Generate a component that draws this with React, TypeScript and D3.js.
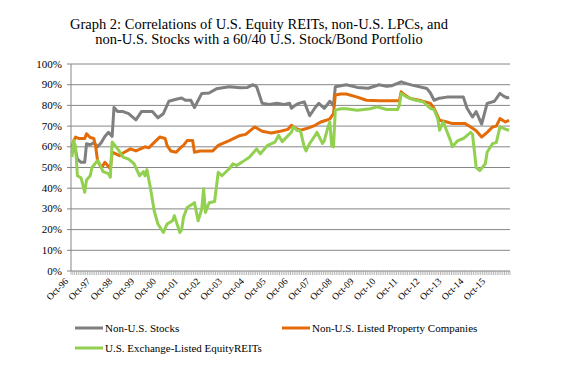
import React from 'react';
import * as d3 from 'd3';

// month index 0 = Oct-96, 239 = Sep-16
const nMonths = 240;
const yTicks = [0, 10, 20, 30, 40, 50, 60, 70, 80, 90, 100];
const xLabels = ['Oct-96', 'Oct-97', 'Oct-98', 'Oct-99', 'Oct-00', 'Oct-01', 'Oct-02', 'Oct-03', 'Oct-04', 'Oct-05',
  'Oct-06', 'Oct-07', 'Oct-08', 'Oct-09', 'Oct-10', 'Oct-11', 'Oct-12', 'Oct-13', 'Oct-14', 'Oct-15'];

// [month, correlation %]
const nonUSStocks = [
  [0, 57], [1, 61], [2, 58], [3, 54], [5, 52.5], [7, 52.5], [8, 61.5], [10, 61], [12, 62], [14, 60], [16, 62], [18, 65],
  [20, 67], [22, 65], [23, 79], [25, 77], [28, 77], [31, 76], [35, 73], [38, 77], [42, 77], [44, 77], [47, 74], [50, 76],
  [53, 82], [57, 83], [60, 83.6], [62, 82.5], [65, 82.5], [67, 79], [71, 85.8], [75, 86], [79, 88], [86, 89], [92, 88.5],
  [96, 88.7], [99, 90], [101, 89], [104, 81], [108, 80.5], [112, 81], [116, 80.5], [119, 81], [120, 78.6], [122, 80],
  [124, 81], [127, 81.7], [130, 75], [133, 79], [135, 81], [138, 78.6], [141, 82], [143, 80], [144, 89], [147, 89.5],
  [150, 90], [156, 88.7], [162, 88.3], [168, 90], [172, 89.2], [175, 89.5], [180, 91.4], [183, 90.5], [186, 89.8],
  [190, 89], [194, 88.2], [196, 86], [198, 82.5], [201, 83.5], [205, 84], [210, 84], [214, 84], [216, 78.6], [219, 74.4],
  [221, 77], [224, 71], [227, 81], [231, 82], [234, 85.8], [236, 84.5], [238, 83.6], [239, 84],
];

const nonUSLPC = [
  [0, 60], [1, 63], [2, 64.7], [4, 64], [7, 64], [8, 66.3], [10, 64.5], [12, 64], [13, 60], [14, 53.4], [16, 50], [17, 51],
  [18, 52.5], [21, 49.4], [22, 57.4], [26, 55.7], [28, 57], [32, 59], [35, 58], [40, 60], [42, 59.5], [46, 63], [48, 64.7],
  [51, 64], [52, 60.7], [54, 58], [57, 57.4], [60, 60], [61, 60.7], [63, 63], [66, 63], [67, 57.4], [70, 58], [74, 58],
  [77, 58], [80, 60.7], [86, 63], [92, 65.5], [95, 66], [100, 69.6], [104, 67.5], [109, 66.7], [114, 67.5], [118, 68.4],
  [120, 70.4], [122, 69], [125, 68], [129, 69], [133, 70.4], [136, 72], [139, 72.8], [141, 73.5], [143, 76], [144, 85],
  [147, 85.5], [150, 85.5], [156, 84], [161, 82.5], [168, 82.2], [174, 82.2], [179, 82.2], [180, 86.6], [182, 85],
  [185, 83.3], [190, 82.5], [196, 81], [198, 78.6], [201, 72.8], [205, 72], [208, 71.2], [212, 71.2], [215, 71.2],
  [218, 69.6], [221, 67.8], [224, 64.7], [227, 67], [230, 69.6], [232, 70], [234, 73.6], [237, 72], [239, 72.8],
];

const usREITs = [
  [0, 55], [1, 63], [2, 60], [3, 46], [5, 45], [7, 38], [8, 44], [10, 46], [11, 50], [14, 53.4], [15, 52], [17, 48],
  [20, 47], [21, 45.3], [22, 62.3], [25, 59], [28, 55], [31, 54], [34, 51.8], [37, 46], [39, 48], [40, 46], [41, 49],
  [43, 39.7], [45, 29], [47, 22.7], [50, 18.6], [52, 22.7], [55, 24.3], [56, 26.7], [59, 18.6], [60, 20], [61, 26],
  [63, 30.7], [66, 32.4], [67, 33], [69, 24.3], [71, 30], [72, 39.7], [73, 28.3], [75, 33], [78, 33.6], [80, 47.7],
  [82, 46], [86, 49.4], [88, 51.8], [90, 51], [93, 52.6], [97, 55], [101, 59], [103, 56.6], [107, 60.7], [111, 62.3],
  [113, 65.5], [115, 62.5], [120, 67], [121, 69.6], [123, 68], [125, 67.5], [127, 60], [128, 58], [130, 61.6],
  [133, 65.5], [134, 67], [137, 61.6], [138, 63], [140, 69.6], [141, 72], [142, 60.7], [143, 60], [144, 77.7],
  [147, 78.4], [150, 78.4], [156, 77.7], [163, 78.4], [167, 79.3], [172, 78], [178, 78], [179, 80], [180, 85.8],
  [183, 84], [188, 82.5], [192, 81.8], [196, 78.5], [198, 78], [200, 73.6], [201, 68], [203, 72], [207, 63], [208, 60],
  [211, 63], [214, 64], [218, 67], [219, 66], [220, 58], [221, 50], [223, 48.5], [226, 51.8], [227, 57.4], [230, 61.6],
  [232, 62], [234, 69.6], [237, 68.5], [239, 68],
];

const series = [
  { name: 'Non-U.S. Stocks', data: nonUSStocks, color: '#7f7f7f' },
  { name: 'Non-U.S. Listed Property Companies', data: nonUSLPC, color: '#e36c09' },
  { name: 'U.S. Exchange-Listed EquityREITs', data: usREITs, color: '#92d050' },
];

const font = '"Liberation Serif", "Times New Roman", serif';

export default function App() {
  const left = 71, right = 510, top = 64, bottom = 271;
  const x = d3.scaleLinear().domain([0, nMonths]).range([left, right]);
  const y = d3.scaleLinear().domain([0, 100]).range([bottom, top]);
  const line = d3.line<number[]>().x(d => x(d[0] + 0.5)).y(d => y(d[1]));

  return (
    <svg width={564} height={369} style={{ position: 'absolute', left: 0, top: 0, background: '#fff' }} fontFamily={font}>
      <text x={259} y={29} textAnchor="middle" fontSize={14.5} fill="#000">
        Graph 2: Correlations of U.S. Equity REITs, non-U.S. LPCs, and
      </text>
      <text x={259} y={43.5} textAnchor="middle" fontSize={14.5} fill="#000">
        non-U.S. Stocks with a 60/40 U.S. Stock/Bond Portfolio
      </text>

      {yTicks.map(t => (
        <g key={t}>
          {t > 0 && <line x1={left} x2={right} y1={y(t)} y2={y(t)} stroke="#868686" strokeWidth={1} />}
          <line x1={left - 4} x2={left} y1={y(t)} y2={y(t)} stroke="#868686" />
          <text x={62} y={y(t) + 3.5} textAnchor="end" fontSize={11} fill="#000">{t}%</text>
        </g>
      ))}
      <line x1={left} x2={left} y1={top} y2={bottom} stroke="#868686" />
      <line x1={left} x2={right} y1={bottom} y2={bottom} stroke="#868686" />
      {d3.range(nMonths + 1).map(i => (
        <line key={i} x1={x(i)} x2={x(i)} y1={bottom} y2={bottom + 4} stroke="#868686" strokeWidth={0.6} />
      ))}
      {xLabels.map((l, i) => {
        const px = x(i * 12 + 0.5);
        return (
          <text key={l} transform={`translate(${px - 3},${bottom + 11}) rotate(-45)`} textAnchor="end" fontSize={9.5} fill="#000">
            {l}
          </text>
        );
      })}

      {series.map(s => (
        <path key={s.name} d={line(s.data) || ''} fill="none" stroke={s.color} strokeWidth={3} strokeLinejoin="round" />
      ))}

      {[
        { s: series[0], lx: 75, ly: 328 },
        { s: series[1], lx: 282, ly: 328 },
        { s: series[2], lx: 75, ly: 348 },
      ].map(({ s, lx, ly }) => (
        <g key={s.name}>
          <line x1={lx} x2={lx + 28} y1={ly} y2={ly} stroke={s.color} strokeWidth={3} />
          <text x={lx + 30} y={ly + 4} fontSize={11} fill="#000">{s.name}</text>
        </g>
      ))}
    </svg>
  );
}
